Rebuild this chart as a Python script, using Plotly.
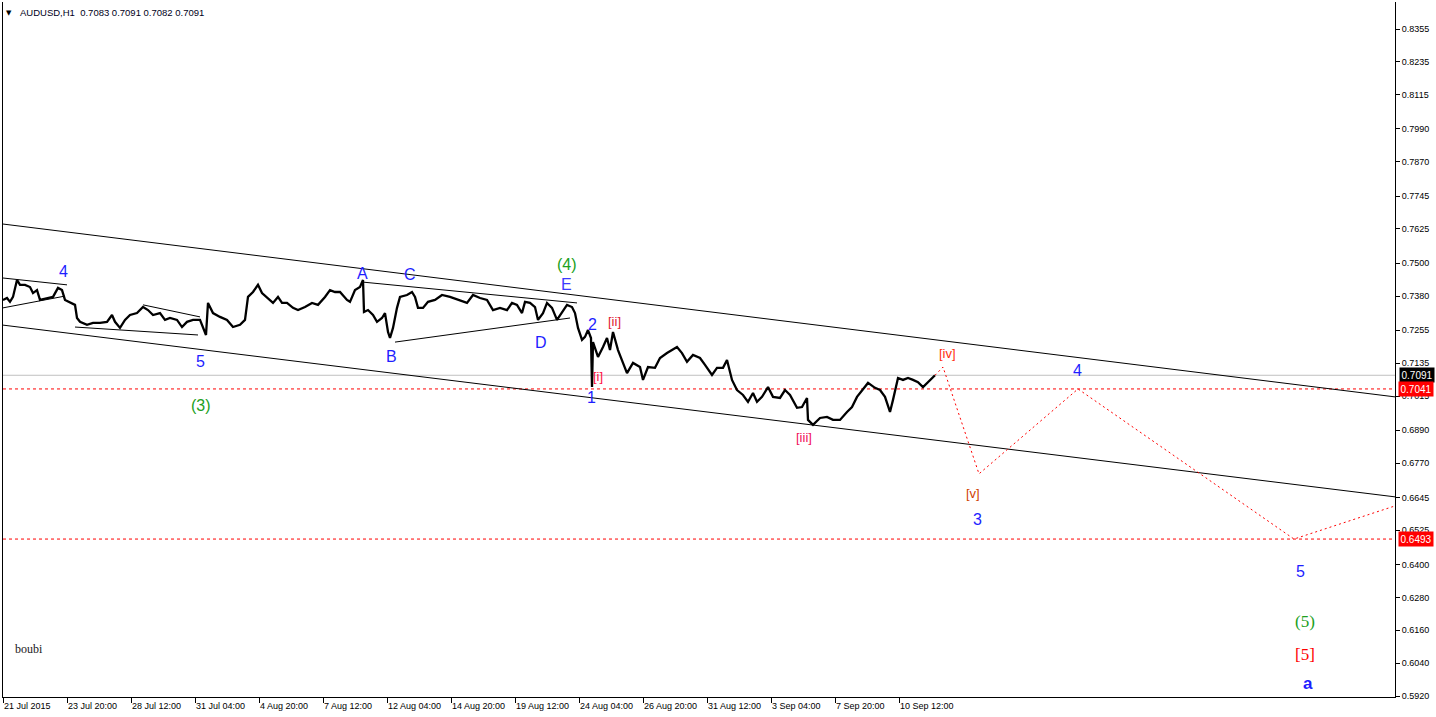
import plotly.graph_objects as go

# ---------------- data ----------------
# bar index (H1 bars from 21 Jul 2015) and close prices
bar_idx = [0, 4, 7, 10, 14, 17, 22, 27, 30, 34, 37, 44, 50, 55, 59, 62, 69, 72, 74, 77,
           84, 90, 97, 104, 109, 112, 117, 122, 127, 134, 140, 145, 150, 157, 162, 167, 174, 179, 184, 190,
           197, 200, 203, 205, 210, 217, 224, 230, 237, 242, 245, 250, 255, 259, 264, 270, 275, 279, 284, 290,
           295, 302, 309, 315, 322, 327, 332, 337, 344, 347, 352, 357, 360, 361, 365, 370, 374, 379, 382, 385,
           387, 390, 394, 397, 404, 409, 412, 415, 420, 425, 432, 439, 447, 455, 464, 470, 477, 484, 490, 497,
           504, 509, 514, 519, 522, 527, 532, 535, 540, 544, 549, 554, 559, 564, 569, 572, 575, 579, 582, 585,
           588, 589, 590, 595, 600, 604, 607, 610, 615, 620, 624, 630, 637, 640, 645, 652, 657, 664, 674, 679,
           684, 690, 697, 702, 709, 714, 720, 724, 729, 734, 740, 745, 750, 754, 759, 765, 770, 777, 782, 787,
           794, 799, 804, 805, 810, 817, 824, 830, 837, 844, 849, 854, 859, 865, 872, 877, 882, 887, 890, 895,
           900, 905, 910, 915, 920, 925, 930, 932]
close = [0.7366, 0.7373, 0.7359, 0.7377, 0.7439, 0.7421, 0.7421, 0.7413, 0.7391, 0.7402, 0.7366, 0.7373, 0.7377, 0.7410, 0.7402, 0.7366, 0.7355, 0.7348, 0.7300, 0.7286,
         0.7275, 0.7282, 0.7282, 0.7286, 0.7311, 0.7286, 0.7264, 0.7293, 0.7311, 0.7318, 0.7340, 0.7329, 0.7311, 0.7318, 0.7293, 0.7300, 0.7293, 0.7267, 0.7286, 0.7293,
         0.7293, 0.7267, 0.7238, 0.7355, 0.7318, 0.7304, 0.7293, 0.7267, 0.7275, 0.7293, 0.7377, 0.7395, 0.7421, 0.7391, 0.7373, 0.7355, 0.7377, 0.7355, 0.7355, 0.7337,
         0.7329, 0.7340, 0.7355, 0.7348, 0.7377, 0.7402, 0.7395, 0.7395, 0.7366, 0.7359, 0.7402, 0.7413, 0.7439, 0.7322, 0.7329, 0.7311, 0.7286, 0.7300, 0.7318, 0.7249,
         0.7227, 0.7264, 0.7337, 0.7377, 0.7384, 0.7395, 0.7377, 0.7337, 0.7337, 0.7359, 0.7366, 0.7384, 0.7377, 0.7366, 0.7355, 0.7384, 0.7373, 0.7366, 0.7329, 0.7337,
         0.7329, 0.7355, 0.7348, 0.7318, 0.7359, 0.7355, 0.7340, 0.7293, 0.7318, 0.7355, 0.7337, 0.7293, 0.7322, 0.7348, 0.7340, 0.7318, 0.7264, 0.7220, 0.7231, 0.7256,
         0.7227, 0.7048, 0.7212, 0.7158, 0.7194, 0.7227, 0.7183, 0.7249, 0.7183, 0.7136, 0.7099, 0.7136, 0.7121, 0.7074, 0.7121, 0.7118, 0.7154, 0.7172, 0.7194, 0.7172,
         0.7140, 0.7165, 0.7154, 0.7129, 0.7092, 0.7118, 0.7118, 0.7147, 0.7074, 0.7037, 0.7019, 0.6994, 0.7026, 0.6994, 0.7012, 0.7048, 0.7012, 0.7008, 0.7037, 0.7019,
         0.6972, 0.6975, 0.7008, 0.6928, 0.6910, 0.6935, 0.6939, 0.6928, 0.6928, 0.6957, 0.6975, 0.7012, 0.7037, 0.7063, 0.7045, 0.7037, 0.7012, 0.6957, 0.7001, 0.7081,
         0.7074, 0.7081, 0.7074, 0.7066, 0.7048, 0.7066, 0.7085, 0.7091]

# projected wave path (red dotted)
proj_idx = [932, 940, 976, 1075, 1291, 1392]
proj_price = [0.7091, 0.7121, 0.6731, 0.7041, 0.6493, 0.6614]

# trend lines: (x0, y0, x1, y1)
trend_lines = [
    (0, 0.7643, 1392, 0.7012),   # upper channel
    (0, 0.7274, 1392, 0.6647),   # lower channel
    (0, 0.7446, 64, 0.7421),     # triangle upper
    (0, 0.7337, 62, 0.7380),     # triangle lower
    (140, 0.7348, 197, 0.7304),  # wedge upper
    (72, 0.7267, 195, 0.7238),   # wedge lower
    (360, 0.7431, 574, 0.7355),  # ABCDE upper
    (392, 0.7212, 567, 0.7300),  # ABCDE lower
]

# horizontal levels
level_bid = 0.7091
level_red = [0.7041, 0.6493]

# y-axis ticks
y_ticks = [0.8355, 0.8235, 0.8115, 0.7990, 0.7870, 0.7745, 0.7625, 0.7500, 0.7380, 0.7255, 0.7135,
           0.7015, 0.6890, 0.6770, 0.6645, 0.6525, 0.6400, 0.6280, 0.6160, 0.6040, 0.5920]
y_labels = ["0.8355", "0.8235", "0.8115", "0.7990", "0.7870", "0.7745", "0.7625", "0.7500", "0.7380",
            "0.7255", "0.7135", "0.7015", "0.6890", "0.6770", "0.6645", "0.6525", "0.6400", "0.6280",
            "0.6160", "0.6040", "0.5920"]
# x-axis ticks (bar index) and labels
x_ticks = [0, 64, 128, 192, 256, 320, 384, 448, 512, 576, 640, 704, 768, 832, 896]
x_labels = ["21 Jul 2015", "23 Jul 20:00", "28 Jul 12:00", "31 Jul 04:00", "4 Aug 20:00", "7 Aug 12:00",
            "12 Aug 04:00", "14 Aug 20:00", "19 Aug 12:00", "24 Aug 04:00", "26 Aug 20:00", "31 Aug 12:00",
            "3 Sep 04:00", "7 Sep 20:00", "10 Sep 12:00"]

# wave labels: text, bar index, price, colour, size, family
BLUE = "#1e1eff"
GREEN = "#20a020"
wave_labels = [
    ("4", 60, 0.7468, BLUE, 16, "Liberation Sans"),
    ("5", 197, 0.7140, BLUE, 16, "Liberation Sans"),
    ("(3)", 198, 0.6979, GREEN, 16, "Liberation Sans"),
    ("A", 359, 0.7461, BLUE, 16, "Liberation Sans"),
    ("B", 388, 0.7158, BLUE, 16, "Liberation Sans"),
    ("C", 407, 0.7457, BLUE, 16, "Liberation Sans"),
    ("D", 538, 0.7212, BLUE, 16, "Liberation Sans"),
    ("E", 563, 0.7424, "#3a3aff", 16, "Liberation Sans"),
    ("(4)", 564, 0.7497, GREEN, 16, "Liberation Sans"),
    ("2", 589, 0.7278, BLUE, 16, "Liberation Sans"),
    ("1", 588, 0.7008, BLUE, 16, "Liberation Sans"),
    ("[i]", 595, 0.7088, "#ff1040", 13, "Liberation Sans"),
    ("[ii]", 611, 0.7289, "#e02030", 13, "Liberation Sans"),
    ("[iii]", 801, 0.6862, "#f0105a", 13, "Liberation Sans"),
    ("[iv]", 944, 0.7172, "#ff3010", 13, "Liberation Sans"),
    ("[v]", 970, 0.6658, "#d04000", 13, "Liberation Sans"),
    ("3", 974, 0.6563, BLUE, 16, "Liberation Sans"),
    ("4", 1074, 0.7107, BLUE, 16, "Liberation Sans"),
    ("5", 1297, 0.6373, BLUE, 16, "Liberation Sans"),
    ("(5)", 1302, 0.6191, GREEN, 17, "Liberation Serif"),
    ("[5]", 1302, 0.6070, "#ff0000", 17, "Liberation Serif"),
    ("<b>a</b>", 1305, 0.5964, BLUE, 17, "Liberation Sans"),
]

# ---------------- figure ----------------
fig = go.Figure()

fig.add_trace(go.Scatter(x=bar_idx, y=close, mode="lines",
                         line=dict(color="black", width=2.3), hoverinfo="skip"))
fig.add_trace(go.Scatter(x=proj_idx, y=proj_price, mode="lines",
                         line=dict(color="#ff0000", width=1, dash="2px,3px"), hoverinfo="skip"))

shapes = []
for (x0, y0, x1, y1) in trend_lines:
    shapes.append(dict(type="line", xref="x", yref="y", x0=x0, y0=y0, x1=x1, y1=y1,
                       line=dict(color="black", width=1), layer="below"))
shapes.append(dict(type="line", xref="paper", yref="y", x0=0, x1=1, y0=level_bid, y1=level_bid,
                   line=dict(color="#c0c0c0", width=1), layer="below"))
for lv in level_red:
    shapes.append(dict(type="line", xref="paper", yref="y", x0=0, x1=1, y0=lv, y1=lv,
                       line=dict(color="#ff0000", width=1, dash="3px,3px"), layer="below"))

annotations = []
for (t, xi, yi, col, sz, fam) in wave_labels:
    annotations.append(dict(x=xi, y=yi, xref="x", yref="y", text=t, showarrow=False,
                            font=dict(color=col, size=sz, family=fam)))
annotations.append(dict(x=10, y=0.6092, xref="x", yref="y", text="boubi", showarrow=False,
                        xanchor="left", font=dict(color="#202020", size=12, family="Liberation Serif")))
# title
annotations.append(dict(x=0.004, y=0.984, xref="paper", yref="paper", text="\u25BC", showarrow=False,
                        xanchor="center", yanchor="middle", font=dict(color="black", size=7, family="DejaVu Sans")))
annotations.append(dict(x=0.0107, y=0.985, xref="paper", yref="paper",
                        text="AUDUSD,H1  0.7083 0.7091 0.7082 0.7091", showarrow=False,
                        xanchor="left", yanchor="middle",
                        font=dict(color="#000020", size=9.5, family="Liberation Sans")))
# price boxes on the right axis
annotations.append(dict(x=1, y=level_bid, xref="paper", yref="y", text="0.7091", showarrow=False,
                        xanchor="left", xshift=4, bgcolor="black", borderpad=1.5,
                        font=dict(color="white", size=10, family="Liberation Sans")))
for lv in level_red:
    annotations.append(dict(x=1, y=lv, xref="paper", yref="y", text=f"{lv:.4f}", showarrow=False,
                            xanchor="left", xshift=3, bgcolor="#ff0000", borderpad=1.5,
                            font=dict(color="white", size=10, family="Liberation Sans")))

fig.update_layout(
    width=1436, height=717,
    margin=dict(l=3, r=41, t=2, b=20, autoexpand=False),
    paper_bgcolor="white", plot_bgcolor="white",
    showlegend=False,
    shapes=shapes, annotations=annotations,
    xaxis=dict(range=[0, 1392], tickmode="array", tickvals=x_ticks, ticktext=x_labels,
               ticks="outside", ticklen=5, tickcolor="black", tickangle=0, automargin=False,
               ticklabelposition="outside right",
               showline=True, linecolor="black", linewidth=1,
               showgrid=False, zeroline=False,
               tickfont=dict(size=9, color="black", family="Liberation Sans")),
    yaxis=dict(range=[0.59164, 0.84536], side="right", tickmode="array", tickvals=y_ticks,
               ticktext=y_labels, automargin=False,
               ticks="outside", ticklen=4, tickcolor="black",
               showline=True, linecolor="black", linewidth=1, mirror=True,
               showgrid=False, zeroline=False,
               tickfont=dict(size=9, color="black", family="Liberation Sans")),
)

fig.write_html("out.html", config={"displayModeBar": False},
               post_script="document.body.style.margin='0';document.body.style.overflow='hidden';")
